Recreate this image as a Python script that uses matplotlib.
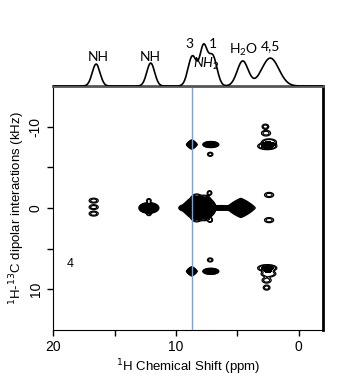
import numpy as np
import matplotlib
matplotlib.use('Agg')
import matplotlib.pyplot as plt

plt.rcParams['font.family'] = ['Liberation Sans', 'DejaVu Sans']
plt.rcParams['mathtext.fontset'] = 'custom'
plt.rcParams['mathtext.rm'] = 'Lato'
plt.rcParams['mathtext.it'] = 'Lato:italic'

# 1D 1H projection: centre (ppm), height, width (ppm)
proj_ppm = [16.5, 12.05, 8.65, 7.75, 7.0, 4.55, 2.3]
proj_height = [22, 23, 30, 38, 30, 25, 28]
proj_width = [0.32, 0.32, 0.35, 0.3, 0.35, 0.45, 0.7]
proj_labels = ['NH', 'NH', '3', '1', 'H$_2$O', '4,5']
proj_label_ppm = [16.3, 12.1, 8.9, 6.95, 4.5, 2.3]
proj_label_h = [29, 29, 42, 42, 36, 40]

# 2D peaks: 1H shift (ppm), dipolar (kHz), intensity, width ppm, width kHz, shape
pk_ppm = [16.7, 16.7, 16.7, 12.2, 12.2, 12.2,
          8.3, 7.6, 7.15, 8.95, 9.5, 6.3, 4.7, 7.25, 7.2,
          8.7, 8.7, 7.15, 7.15, 7.2, 7.2,
          2.7, 2.65, 2.4, 2.55, 2.55, 2.45, 2.6, 2.6, 2.4, 2.4]
pk_khz = [-0.9, -0.1, 0.7, 0.0, -0.9, 0.7,
          0.0, 0.0, 0.0, 0.0, 0.0, 0.0, 0.0, -1.85, 1.5,
          -7.8, 7.8, -7.8, 7.8, -6.6, 6.4,
          -10.0, -9.2, -8.1, -7.6, 7.4, 8.1, 8.9, 9.8, -1.6, 1.5]
pk_amp = [0.45, 0.45, 0.45, 1.5, 0.45, 0.45,
          1.5, 1.5, 1.0, 1.2, 0.45, 0.8, 1.5, 0.45, 0.45,
          1.5, 1.5, 1.5, 1.5, 0.45, 0.45,
          0.45, 0.45, 0.55, 0.7, 0.7, 0.55, 0.45, 0.45, 0.45, 0.45]
pk_sx = [0.3, 0.3, 0.3, 0.5, 0.15, 0.15,
         0.45, 0.4, 0.27, 0.42, 0.2, 0.6, 0.72, 0.15, 0.15,
         0.27, 0.27, 0.4, 0.4, 0.18, 0.18,
         0.22, 0.3, 0.45, 0.55, 0.55, 0.45, 0.3, 0.22, 0.3, 0.3]
pk_sy = [0.24, 0.24, 0.24, 0.4, 0.2, 0.2,
         1.05, 0.95, 0.55, 0.6, 0.22, 0.2, 0.72, 0.22, 0.22,
         0.35, 0.35, 0.23, 0.23, 0.2, 0.2,
         0.25, 0.28, 0.3, 0.3, 0.3, 0.3, 0.28, 0.25, 0.25, 0.25]
pk_shape = [2, 2, 2, 2, 2, 2,
            2, 2, 2, 1.2, 2, 2, 1.2, 2, 2,
            1.3, 1.3, 2, 2, 2, 2,
            2, 2, 2, 2, 2, 2, 2, 2, 2, 2]

xx = np.linspace(-2, 20, 700)
yy = np.linspace(-15, 15, 700)
X, Y = np.meshgrid(xx, yy)
Z = np.zeros_like(X)
for p, k, a, sx, sy, q in zip(pk_ppm, pk_khz, pk_amp, pk_sx, pk_sy, pk_shape):
    r = (np.abs((X - p) / sx) ** q + np.abs((Y - k) / sy) ** q) ** (1.0 / q)
    Z += a * np.exp(-0.25 * r ** 4)

fig = plt.figure(figsize=(3.5, 3.84), dpi=100)
ax = fig.add_axes([0.152, 0.141, 0.771, 0.635])
ax.contourf(X, Y, Z, levels=[0.6, 100], colors='black')
ax.contour(X, Y, Z, levels=[0.25, 0.4], colors='black', linewidths=0.9)
ax.axvline(8.7, color='#7f9fd0', lw=1)
ax.text(18.6, 6.9, '4', fontsize=9, ha='center', va='center')

ax.set_xlim(20, -2)
ax.set_ylim(15, -15)
ax.set_xticks([20, 10, 0])
ax.set_xticks([15, 5], minor=True)
ax.set_yticks([-10, 0, 10])
ax.set_yticks([-5, 5], minor=True)
ax.set_yticklabels(['-10', '0', '10'], rotation=90, va='center')
ax.tick_params(which='both', direction='out', length=4, width=1, labelsize=10)
ax.set_xlabel('$^1$H Chemical Shift (ppm)', fontsize=9.5, labelpad=2,
              math_fontfamily='dejavusans')
ax.set_ylabel('$^1$H-$^{13}$C dipolar interactions (kHz)', fontsize=9.5, labelpad=1,
              math_fontfamily='dejavusans')
ax.spines['top'].set_color('#555555')
ax.spines['top'].set_linewidth(2)
ax.spines['right'].set_linewidth(2)

# projection on top
axp = fig.add_axes([0.152, 0.776, 0.771, 0.2])
px = np.linspace(-2, 20, 1000)
spec = np.zeros_like(px)
for c, h, w in zip(proj_ppm, proj_height, proj_width):
    spec += h * np.exp(-0.5 * ((px - c) / w) ** 2)
axp.plot(px, spec, color='black', lw=1.2)
axp.set_xlim(20, -2)
axp.set_ylim(0, 77)
axp.axis('off')
for lab, xp, h in zip(proj_labels, proj_label_ppm, proj_label_h):
    axp.text(xp, h, lab, ha='center', va='center', fontsize=10, fontfamily='Lato')
axp.text(7.5, 22, 'NH$_2$', ha='center', va='center', fontsize=10,
         fontfamily='Lato', style='italic')

fig.savefig('out.png', dpi=100)
